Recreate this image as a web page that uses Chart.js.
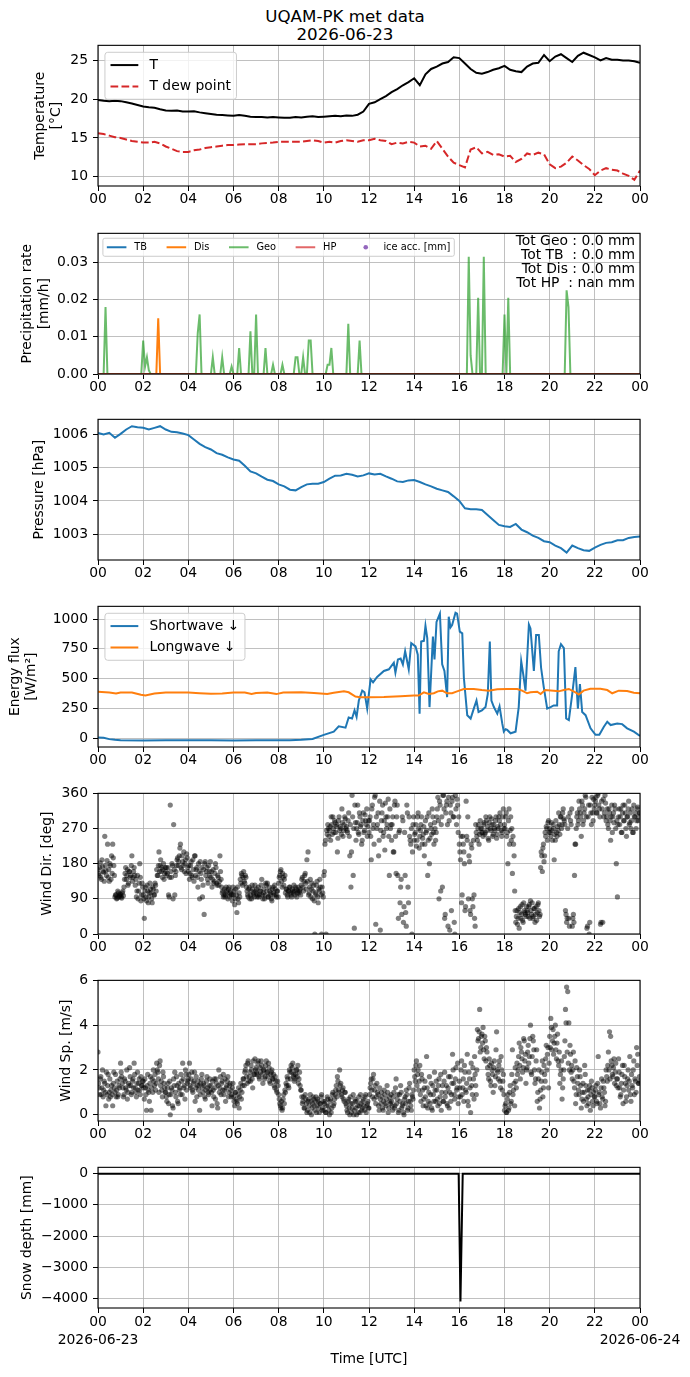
<!DOCTYPE html>
<html>
<head>
<meta charset="utf-8">
<script src="https://cdn.jsdelivr.net/npm/chart.js@4.4.1/dist/chart.umd.min.js"></script>
<style>
  html, body { margin: 0; padding: 0; background: #fff; }
  body { width: 690px; height: 1377px; position: relative; overflow: hidden; font-family: "DejaVu Sans", sans-serif; }
  #title { position: absolute; left: 0; top: 7px; width: 690px; text-align: center; font-size: 16.7px; line-height: 18px; color: #000; }
  canvas { position: absolute; left: 0; }
</style>
</head>
<body>
<div id="title">UQAM-PK met data<br>2026-06-23</div>
<canvas id="c1"></canvas>
<canvas id="c2"></canvas>
<canvas id="c3"></canvas>
<canvas id="c4"></canvas>
<canvas id="c5"></canvas>
<canvas id="c6"></canvas>
<canvas id="c7"></canvas>
<script>
// ---------- data ----------
const hourTicks = [0, 2, 4, 6, 8, 10, 12, 14, 16, 18, 20, 22, 24];
const hourLabels = ["00", "02", "04", "06", "08", "10", "12", "14", "16", "18", "20", "22", "00"];
const startDate = "2026-06-23";
const endDate = "2026-06-24";

// temperature, every 15 min
const tempTicks = [10, 15, 20, 25];
const tempT = [
  19.9, 19.8, 19.75, 19.8,   19.75, 19.6, 19.45, 19.25,  19.05, 18.95, 18.9, 18.7,
  18.55, 18.5, 18.55, 18.4,  18.4, 18.45, 18.3, 18.2,    18.1, 18.0, 17.95, 17.9,
  17.85, 17.95, 17.85, 17.75, 17.7, 17.7, 17.65, 17.7,   17.65, 17.6, 17.6, 17.7,
  17.65, 17.75, 17.8, 17.7,  17.75, 17.8, 17.85, 17.8,   17.9, 17.85, 18.0, 18.4,
  19.4, 19.6, 20.0, 20.4,    20.9, 21.3, 21.8, 22.2,     22.7, 21.8, 23.2, 23.9,
  24.2, 24.6, 24.8, 25.4,    25.3, 24.6, 23.9, 23.4,     23.3, 23.5, 23.8, 24.0,
  24.3, 23.8, 23.6, 23.5,    24.2, 24.6, 24.7, 25.7,     24.9, 25.5, 25.8, 25.3,
  24.8, 25.6, 26.0, 25.7,    25.4, 25.0, 25.3, 25.1,     25.1, 25.0, 25.0, 24.9,
  24.7
];
const tempDew = [
  15.6, 15.5, 15.3, 15.1,    15.0, 14.8, 14.6, 14.5,     14.4, 14.4, 14.5, 14.3,
  13.9, 13.6, 13.3, 13.2,    13.2, 13.4, 13.5, 13.7,     13.8, 13.9, 14.0, 14.1,
  14.1, 14.15, 14.2, 14.2,   14.2, 14.3, 14.35, 14.4,    14.5, 14.5, 14.5, 14.5,
  14.5, 14.6, 14.7, 14.6,    14.4, 14.5, 14.4, 14.6,     14.7, 14.6, 14.5, 14.7,
  14.7, 14.9, 14.7, 14.6,    14.2, 14.4, 14.3, 14.5,     14.4, 13.9, 14.0, 13.6,
  14.6, 13.6, 12.6, 11.8,    11.5, 11.2, 13.5, 13.8,     13.0, 13.2, 12.8, 12.9,
  12.6, 12.7, 11.9, 12.3,    13.0, 12.8, 13.1, 12.9,     11.6, 11.1, 11.3, 11.8,
  12.6, 12.1, 11.5, 11.0,    10.2, 10.8, 11.1, 10.9,     10.8, 10.4, 10.1, 9.6,
  10.8
];

// precipitation rate, Geo gauge every 5 min (one row per hour)
const precipTicks = [0, 0.01, 0.02, 0.03];
const geoRate = [
  0, 0, 0, 0, 0.018, 0, 0, 0, 0, 0, 0, 0,
  0, 0, 0, 0, 0, 0, 0, 0, 0, 0, 0, 0,
  0.009, 0.002, 0.0045, 0.001, 0, 0, 0, 0, 0, 0, 0, 0,
  0, 0, 0, 0, 0, 0, 0, 0, 0, 0, 0, 0,
  0, 0, 0, 0, 0, 0.011, 0.016, 0, 0, 0, 0, 0,
  0, 0.0045, 0, 0, 0, 0, 0.0045, 0, 0, 0, 0, 0.002,
  0, 0, 0, 0.007, 0, 0, 0, 0, 0, 0.0115, 0, 0,
  0.016, 0, 0, 0, 0, 0.007, 0, 0, 0, 0.0025, 0, 0,
  0, 0, 0.0025, 0, 0, 0, 0, 0, 0, 0.0045, 0.0045, 0,
  0, 0.0045, 0, 0, 0.009, 0.009, 0, 0, 0, 0, 0, 0,
  0, 0, 0.0025, 0.0025, 0.007, 0, 0, 0, 0, 0, 0, 0,
  0, 0.0135, 0, 0, 0, 0, 0, 0.009, 0, 0, 0, 0,
  0, 0, 0, 0, 0, 0, 0, 0, 0, 0, 0, 0,
  0, 0, 0, 0, 0, 0, 0, 0, 0, 0, 0, 0,
  0, 0, 0, 0, 0, 0, 0, 0, 0, 0, 0, 0,
  0, 0, 0, 0, 0, 0, 0, 0, 0, 0, 0, 0,
  0, 0, 0, 0, 0, 0.0315, 0.005, 0, 0, 0, 0.0205, 0,
  0, 0.0315, 0, 0, 0, 0, 0, 0, 0, 0, 0, 0,
  0.016, 0, 0.0205, 0, 0, 0, 0, 0, 0, 0, 0, 0,
  0, 0, 0, 0, 0, 0, 0, 0, 0, 0, 0, 0,
  0, 0, 0, 0, 0, 0, 0, 0, 0, 0.0225, 0.018, 0,
  0, 0, 0, 0, 0, 0, 0, 0, 0, 0, 0, 0,
  0, 0, 0, 0, 0, 0, 0, 0, 0, 0, 0, 0,
  0, 0, 0, 0, 0, 0, 0, 0, 0, 0, 0, 0,
  0
];
const disTimes = [0, 2.583, 2.667, 2.75, 24];
const disRate = [0, 0, 0.015, 0, 0];
const tbTimes = [0, 24];
const tbRate = [0, 0];
const hpTimes = [0, 24];
const hpRate = [0, 0];
const totLines = ["Tot Geo : 0.0 mm", "Tot TB  : 0.0 mm", "Tot Dis : 0.0 mm", "Tot HP  : nan mm"];

// pressure, every 15 min
const pressTicks = [1003, 1004, 1005, 1006];
const pressure = [
  1006.05, 1006.0, 1006.05, 1005.9,   1006.02, 1006.15, 1006.25, 1006.22,
  1006.2, 1006.15, 1006.2, 1006.25,   1006.15, 1006.08, 1006.07, 1006.03,
  1005.98, 1005.85, 1005.72, 1005.62, 1005.55, 1005.44, 1005.39, 1005.31,
  1005.25, 1005.21, 1005.06, 1004.89, 1004.83, 1004.73, 1004.64, 1004.6,
  1004.5, 1004.44, 1004.34, 1004.32,  1004.42, 1004.5, 1004.52, 1004.52,
  1004.57, 1004.67, 1004.76, 1004.77, 1004.82, 1004.79, 1004.74, 1004.77,
  1004.83, 1004.8, 1004.82, 1004.74,  1004.67, 1004.59, 1004.57, 1004.62,
  1004.63, 1004.57, 1004.5, 1004.44,  1004.37, 1004.32, 1004.27, 1004.14,
  1004.0, 1003.78, 1003.75, 1003.75,  1003.73, 1003.58, 1003.43, 1003.28,
  1003.24, 1003.22, 1003.31, 1003.14, 1003.06, 1002.96, 1002.89, 1002.79,
  1002.76, 1002.66, 1002.58, 1002.45, 1002.66, 1002.58, 1002.52, 1002.5,
  1002.6, 1002.68, 1002.74, 1002.76,  1002.82, 1002.82, 1002.89, 1002.92,
  1002.93
];

// radiation (irregular sample times, hours)
const fluxTicks = [0, 250, 500, 750, 1000];
const swTimes = [
  0, 0.25, 0.5, 0.75, 1, 2, 3, 4, 5, 6, 7, 8, 8.5, 9, 9.5,
  10.0, 10.44, 10.66, 10.96, 11.1, 11.25, 11.36, 11.45, 11.55, 11.7, 11.8, 11.92,
  12.07, 12.18, 12.36, 12.66, 12.88, 13.1, 13.17, 13.28, 13.4, 13.5, 13.6, 13.76, 13.87,
  14.06, 14.16, 14.24, 14.31, 14.43, 14.5, 14.58, 14.68, 14.83, 14.9, 14.99,
  15.14, 15.24, 15.34, 15.46, 15.53, 15.61, 15.68, 15.83, 15.9,
  16.02, 16.13, 16.2, 16.35, 16.5, 16.64, 16.76, 16.85,
  17.0, 17.16, 17.26, 17.35, 17.42, 17.53, 17.68, 17.78, 17.9, 17.97,
  18.05, 18.12, 18.27, 18.49, 18.63, 18.74, 18.83, 18.93,
  19.08, 19.15, 19.3, 19.4, 19.52, 19.62, 19.74, 19.89,
  20.04, 20.18, 20.33, 20.4, 20.5, 20.63, 20.73, 20.85,
  21.0, 21.14, 21.25, 21.34, 21.44, 21.59, 21.81,
  22.03, 22.2, 22.4, 22.55, 22.7, 22.99, 23.21, 23.43, 23.73, 24.0
];
const swFlux = [
  5, 3, -8, -14, -17, -19, -18, -18, -18, -19, -17, -18, -17, -14, -6,
  28, 55, 100, 88, 173, 165, 234, 179, 316, 399, 385, 248,
  495, 468, 514, 564, 578, 633, 550, 660, 668, 619, 729, 578, 798,
  770, 701, 206, 811, 817, 943, 839, 261, 853, 660, 976,
  1045, 619, 564, 344, 1020, 930, 949, 1053, 1045,
  894, 880, 509, 193, 165, 248, 316, 220,
  234, 261, 371, 811, 316, 261, 206, 267, 124, 55,
  75, 69, 41, 55, 261, 646, 536, 399,
  954, 921, 564, 866, 866, 591, 426, 248,
  261, 275, 275, 729, 789, 756, 165, 151,
  371, 597, 248, 454, 220, 193, 83,
  28, 28, 96, 138, 110, 124, 118, 83, 55, 19
];
const lwTimes = [
  0, 0.5, 0.8, 1.0, 1.5, 1.9, 2.1, 2.5, 3, 4, 4.5, 5, 5.5, 6, 6.5, 6.8, 7, 7.5, 7.9, 8.2, 9,
  9.56, 10.15, 10.44, 10.89, 11.1, 11.4, 11.6, 12, 12.66, 13.4, 13.99, 14.2, 14.43, 14.65, 14.87,
  15.05, 15.24, 15.46, 15.68, 15.9, 16.2, 16.64, 17.0, 17.3, 17.68, 18.12, 18.56, 18.78, 19.0,
  19.15, 19.45, 19.6, 19.8, 20.18, 20.4, 20.63, 20.85, 21.14, 21.29, 21.5, 21.8, 22.25, 22.55,
  22.77, 23.06, 23.43, 23.73, 24
];
const lwFlux = [
  389, 384, 375, 384, 384, 364, 358, 375, 384, 384, 378, 372, 375, 384, 384, 372, 380, 384, 370, 384, 385,
  380, 371, 382, 393, 385, 349, 344, 344, 346, 352, 358, 358, 385, 371, 377,
  393, 399, 377, 378, 393, 413, 413, 404, 399, 410, 413, 413, 399, 377,
  385, 390, 371, 404, 399, 393, 404, 413, 385, 366, 399, 415, 415, 404,
  377, 399, 396, 382, 377
];

// wind direction: samples every 3 min (windDir) and the in-between samples (windDirB)
const dirTicks = [0, 90, 180, 270, 360];
const windDir = [
  165, 150, 182, 140, 172, 158, 250, 162, 188, 145, 135, 175, 200, 230, 175, 95, 100, 92, 105, 98,
  100, 92, 110, 120, 155, 140, 165, 130, 160, 150, 200, 145, 170, 125, 95, 150, 110, 180, 85, 130,
  100, 40, 120, 85, 110, 95, 130, 105, 80, 115, 100, 125, 165, 150, 210, 175, 160, 145, 180, 155,
  160, 150, 170, 95, 330, 145, 175, 280, 100, 160, 190, 175, 200, 230, 165, 185, 210, 180, 155, 195,
  160, 140, 175, 150, 190, 135, 200, 165, 145, 180, 90, 155, 170, 125, 50, 185, 160, 140, 175, 150,
  145, 120, 165, 135, 180, 130, 150, 125, 200, 140, 105, 95, 115, 100, 110, 90, 120, 105, 100, 85,
  100, 75, 115, 55, 90, 105, 140, 155, 125, 160, 130, 145, 110, 95, 120, 100, 90, 115, 105, 125,
  105, 95, 120, 100, 110, 140, 90, 115, 100, 125, 130, 95, 110, 105, 85, 120, 100, 115, 95, 110,
  130, 150, 165, 120, 145, 140, 105, 115, 95, 110, 120, 100, 115, 105, 110, 120, 95, 110, 105, 115,
  125, 145, 110, 150, 130, 190, 210, 105, 140, 115, 90, 125, 0, 100, 135, 80, 110, 120, 0, 105,
  150, 230, 0, 255, 270, 265, 240, 280, 300, 260, 285, 275, 210, 290, 265, 270, 320, 250, 280, 295,
  275, 260, 310, 200, 120, 355, 150, 15, 285, 270, 330, 255, 300, 280, 240, 310, 265, 290, 320, 275,
  260, 300, 190, 330, 280, 350, 25, 270, 310, 240, 10, 290, 330, 260, 215, 300, 280, 345, 150, 270,
  240, 300, 210, 340, 155, 330, 40, 265, 120, 50, 290, 70, 150, 20, 310, 80, 250, 230, 0, 280,
  240, 260, 225, 300, 270, 250, 280, 230, 255, 200, 290, 265, 150, 310, 245, 270, 320, 260, 285, 240,
  300, 350, 90, 330, 280, 120, 355, 40, 310, 340, 20, 290, 330, 60, 350, 300, 0, 320, 345, 260,
  230, 190, 80, 250, 210, 60, 340, 240, 90, 185, 50, 220, 70, 100, 20, 260, 240, 280, 255, 270,
  270, 250, 285, 260, 290, 275, 240, 300, 265, 280, 255, 270, 290, 245, 275, 300, 310, 265, 260, 320,
  280, 300, 250, 180, 320, 265, 240, 155, 230, 110, 30, 60, 40, 15, 70, 50, 35, 80, 55, 45,
  60, 45, 75, 85, 50, 40, 65, 30, 70, 55, 80, 45, 170, 200, 220, 185, 260, 275, 240, 290,
  270, 250, 265, 280, 190, 240, 260, 275, 310, 255, 300, 280, 320, 290, 60, 30, 270, 40, 310, 280,
  20, 50, 150, 230, 300, 280, 340, 310, 250, 330, 290, 320, 350, 15, 300, 0, 330, 280, 310, 345,
  330, 350, 310, 360, 320, 25, 340, 30, 300, 355, 290, 320, 270, 310, 240, 330, 300, 285, 320, 180,
  95, 300, 280, 320, 260, 330, 290, 310, 250, 300, 340, 285, 270, 320, 260, 300, 310, 290, 325, 300,
  310
];
const windDirB = [
  155, 170, 145, 190, 160, 135, 175, 150, 230, 165, 180, 140, 155, 195, 150, 100, 90, 110, 95, 102,
  95, 105, 98, 140, 170, 150, 125, 160, 145, 175, 135, 160, 150, 140, 110, 90, 130, 145, 100, 120,
  90, 110, 95, 125, 80, 105, 115, 90, 120, 100, 130, 110, 150, 175, 160, 190, 170, 165, 140, 170,
  170, 155, 100, 145, 160, 180, 90, 165, 150, 175, 195, 185, 220, 170, 200, 175, 160, 190, 205, 170,
  175, 155, 185, 145, 165, 200, 150, 170, 120, 160, 185, 140, 95, 165, 180, 150, 170, 130, 160, 185,
  160, 140, 130, 155, 170, 125, 145, 135, 160, 120, 110, 100, 95, 120, 105, 115, 95, 110, 100, 120,
  110, 90, 100, 120, 80, 95, 130, 150, 145, 135, 150, 120, 100, 115, 90, 110, 125, 100, 95, 110,
  115, 100, 95, 110, 125, 100, 105, 90, 130, 110, 95, 120, 100, 90, 115, 105, 125, 100, 110, 95,
  145, 160, 135, 155, 125, 150, 115, 100, 110, 120, 105, 95, 110, 125, 100, 115, 105, 120, 110, 100,
  140, 120, 135, 155, 115, 135, 100, 120, 95, 130, 110, 85, 105, 125, 95, 115, 140, 100, 120, 95,
  160, 240, 265, 280, 250, 275, 300, 255, 270, 290, 260, 280, 245, 300, 275, 255, 285, 265, 300, 270,
  265, 290, 250, 280, 210, 300, 270, 330, 240, 285, 260, 310, 275, 230, 290, 260, 305, 280, 250, 290,
  290, 250, 320, 270, 230, 355, 300, 280, 200, 340, 265, 310, 250, 290, 335, 270, 300, 250, 320, 280,
  280, 210, 330, 250, 300, 150, 260, 80, 140, 300, 30, 260, 55, 330, 120, 300, 240, 270, 210, 300,
  255, 280, 240, 310, 220, 265, 300, 245, 275, 230, 260, 300, 240, 180, 280, 255, 300, 230, 270, 260,
  320, 290, 340, 110, 300, 355, 320, 50, 330, 280, 350, 10, 310, 340, 300, 30, 355, 280, 330, 300,
  210, 250, 100, 230, 180, 70, 250, 300, 200, 60, 230, 90, 240, 40, 280, 250, 270, 230, 290, 260,
  260, 280, 255, 300, 265, 245, 285, 270, 295, 250, 280, 265, 300, 255, 270, 290, 280, 250, 300, 270,
  270, 310, 260, 290, 230, 300, 270, 250, 200, 60, 45, 25, 65, 55, 40, 75, 30, 60, 50, 70,
  55, 70, 40, 60, 80, 45, 65, 50, 35, 75, 60, 50, 210, 160, 230, 200, 250, 270, 285, 260,
  260, 285, 240, 270, 255, 290, 250, 265, 280, 300, 270, 310, 295, 280, 50, 40, 300, 20, 290, 320,
  40, 30, 230, 270, 310, 290, 320, 300, 340, 280, 310, 355, 300, 20, 330, 30, 310, 350, 290, 320,
  340, 310, 355, 330, 300, 30, 320, 345, 310, 335, 300, 280, 320, 290, 300, 260, 310, 330, 270, 290,
  280, 320, 300, 260, 310, 290, 330, 270, 300, 320, 280, 310, 290, 260, 330, 300, 270, 320, 290, 310
];

// wind speed: samples every 3 min (windSp) and the in-between samples (windSpB)
const spTicks = [0, 2, 4, 6];
const windSp = [
  2.8, 1.2, 1.6, 0.9, 2.0, 1.1, 1.4, 0.4, 0.9, 1.8, 1.0, 0.8, 1.3, 0.4, 1.9, 1.0, 0.8, 1.5, 0.9, 1.2,
  2.3, 1.7, 1.2, 0.9, 1.5, 1.1, 0.7, 1.4, 2.1, 1.3, 1.0, 1.6, 2.3, 1.2, 0.8, 1.9, 1.4, 1.1, 1.7, 1.3,
  1.5, 0.7, 1.2, 0.2, 1.8, 1.0, 1.4, 0.2, 1.6, 2.0, 1.3, 1.1, 2.3, 1.9, 1.0, 2.4, 1.5, 0.8, 1.7, 1.2,
  1.0, 0.6, 1.4, 0.9, 0.0, 1.2, 0.4, 1.6, 1.9, 0.8, 1.3, 0.5, 1.1, 0.9, 1.5, 2.3, 1.2, 0.7, 1.8, 1.4,
  1.6, 2.3, 1.2, 1.9, 1.0, 1.5, 0.6, 1.7, 1.3, 1.1, 0.2, 1.4, 1.8, 1.0, 1.3, 0.7, 1.5, 1.2, 0.9, 1.6,
  1.3, 0.4, 1.1, 1.6, 0.7, 1.4, 0.3, 2.0, 1.2, 0.9, 1.5, 1.8, 1.1, 0.6, 1.3, 1.7, 1.0, 1.4, 0.8, 1.2,
  0.8, 0.4, 1.0, 0.6, 0.9, 0.3, 1.1, 0.7, 1.3, 1.6, 1.9, 2.2, 1.4, 2.4, 1.7, 1.5, 2.0, 1.2, 1.8, 2.5,
  2.1, 1.8, 2.4, 1.6, 1.9, 2.2, 1.4, 2.0, 1.7, 2.4, 1.9, 2.3, 1.5, 1.8, 2.0, 1.6, 1.3, 1.7, 1.1, 1.5,
  0.9, 0.5, 0.3, 0.2, 0.7, 0.5, 1.0, 1.3, 1.6, 1.2, 1.9, 2.2, 2.1, 1.7, 1.5, 1.8, 2.0, 2.2, 1.6, 1.3,
  1.1, 0.5, 0.8, 0.3, 0.7, 0.1, 0.6, 0.4, 0.9, 0.0, 0.5, 0.7, 0.2, 0.8, 0.4, 0.6, 0.1, 0.5, 0.9, 0.3,
  0.2, 0.6, 0.1, 0.8, 0.4, 0.0, 0.7, 0.3, 1.0, 0.5, 0.9, 1.3, 1.7, 1.1, 2.0, 1.4, 0.8, 1.2, 0.6, 1.0,
  0.4, 0.1, 0.7, 0.0, 0.5, 0.3, 0.9, 0.2, 0.6, 0.0, 0.4, 0.8, 0.1, 0.5, 0.3, 0.7, 0.2, 0.9, 0.4, 0.6,
  0.3, 1.2, 1.6, 0.8, 1.8, 1.1, 0.5, 1.4, 0.9, 0.2, 0.7, 1.0, 0.3, 0.6, 0.9, 0.4, 1.3, 0.1, 0.8, 0.5,
  0.6, 0.2, 1.0, 0.4, 1.6, 0.7, 0.1, 0.9, 1.3, 0.3, 0.5, 0.0, 0.8, 1.1, 0.2, 0.6, 1.4, 0.4, 0.9, 0.7,
  2.0, 1.5, 2.4, 1.8, 1.1, 2.2, 0.6, 1.6, 0.4, 1.2, 0.8, 2.6, 0.3, 1.0, 0.5, 1.4, 0.2, 0.9, 1.9, 0.6,
  1.1, 0.4, 1.6, 0.8, 0.2, 1.3, 0.6, 1.9, 1.0, 0.5, 1.2, 0.3, 1.7, 0.9, 2.7, 1.4, 0.7, 2.1, 1.2, 0.5,
  1.5, 0.8, 2.4, 1.2, 0.6, 1.9, 1.0, 2.7, 0.4, 1.6, 0.1, 1.3, 2.1, 0.7, 1.8, 0.9, 3.8, 3.4, 4.7, 3.0,
  3.6, 3.9, 2.5, 3.3, 3.0, 2.1, 1.6, 2.2, 1.3, 2.0, 1.0, 2.4, 1.7, 3.7, 1.9, 2.2, 1.5, 2.6, 1.1, 1.8,
  0.2, 0.5, 0.1, 0.9, 0.3, 1.3, 0.6, 2.9, 1.1, 0.4, 1.5, 2.3, 2.0, 3.2, 1.6, 2.8, 1.9, 3.4, 2.4, 1.4,
  2.1, 3.1, 2.6, 4.0, 1.8, 3.5, 2.9, 1.4, 2.4, 0.6, 1.6, 0.3, 1.1, 1.9, 0.8, 2.2, 1.5, 3.1, 2.7, 1.2,
  3.5, 4.3, 2.9, 3.8, 3.2, 4.0, 2.5, 3.6, 2.2, 1.4, 2.0, 0.7, 1.6, 2.6, 4.7, 5.7, 5.5, 4.1, 3.1, 1.9,
  1.6, 2.8, 1.2, 0.5, 2.1, 1.4, 0.9, 1.7, 0.3, 1.0, 0.6, 2.2, 1.3, 0.4, 0.8, 1.1, 0.2, 1.5, 0.6, 1.0,
  0.8, 1.3, 0.5, 2.6, 1.0, 0.3, 1.6, 0.7, 1.2, 0.4, 2.0, 1.5, 2.8, 3.7, 3.5, 2.2, 1.7, 2.5, 1.9, 1.3,
  1.6, 2.5, 1.2, 0.9, 1.8, 0.5, 2.2, 1.4, 0.8, 1.6, 1.1, 2.6, 0.6, 1.3, 2.0, 0.9, 1.5, 3.0, 2.7, 1.4,
  1.5
];
const windSpB = [
  1.4, 0.9, 1.7, 1.2, 0.8, 1.5, 1.0, 1.9, 1.3, 0.7, 1.6, 1.1, 0.9, 1.4, 1.2, 1.8, 1.1, 0.8, 1.3, 1.6,
  1.9, 1.4, 0.8, 1.6, 1.2, 2.0, 1.0, 1.3, 1.7, 0.9, 1.5, 1.2, 1.8, 1.0, 1.4, 1.1, 1.6, 0.9, 1.3, 1.5,
  1.2, 1.6, 0.9, 1.3, 1.1, 0.6, 1.7, 1.2, 1.0, 1.5, 1.8, 1.4, 2.0, 1.6, 2.2, 1.3, 1.1, 1.9, 1.4, 1.0,
  0.8, 1.2, 0.5, 1.5, 0.9, 1.1, 0.3, 1.3, 1.0, 1.7, 0.6, 1.4, 1.2, 1.8, 0.9, 1.6, 1.3, 2.0, 1.1, 1.5,
  1.8, 1.3, 1.6, 1.1, 1.4, 1.9, 1.2, 0.8, 1.5, 1.3, 0.9, 1.6, 1.2, 1.4, 0.8, 1.1, 1.7, 1.0, 1.3, 1.1,
  1.0, 1.5, 0.8, 1.2, 1.6, 0.5, 1.3, 1.0, 1.7, 1.4, 1.1, 0.9, 1.6, 1.2, 1.5, 0.8, 1.3, 1.1, 0.9, 1.4,
  0.6, 1.0, 0.7, 0.5, 1.2, 0.8, 1.4, 1.0, 1.6, 1.3, 2.0, 1.7, 2.3, 1.5, 1.9, 2.2, 1.6, 2.4, 1.8, 2.0,
  1.9, 2.3, 1.7, 2.1, 2.4, 1.8, 2.0, 1.6, 2.2, 1.9, 1.7, 2.1, 1.4, 1.9, 1.6, 1.8, 1.2, 1.5, 1.0, 1.3,
  0.7, 0.4, 0.6, 0.3, 0.9, 1.1, 1.4, 1.7, 1.3, 2.0, 1.6, 1.9, 2.3, 1.8, 1.6, 2.0, 1.7, 1.4, 1.9, 1.1,
  0.8, 0.6, 0.3, 0.9, 0.5, 0.2, 0.7, 0.1, 0.6, 0.3, 0.8, 0.4, 0.6, 0.1, 0.7, 0.3, 0.5, 0.8, 0.2, 0.6,
  0.5, 0.1, 0.4, 0.7, 0.2, 0.6, 0.1, 0.9, 0.4, 0.7, 1.1, 0.8, 1.5, 1.0, 1.3, 0.9, 1.1, 0.7, 1.0, 0.5,
  0.2, 0.6, 0.3, 0.8, 0.1, 0.5, 0.0, 0.7, 0.3, 0.6, 0.1, 0.4, 0.9, 0.2, 0.6, 0.4, 0.8, 0.1, 0.5, 0.3,
  0.9, 1.4, 1.1, 1.6, 0.7, 1.3, 0.8, 1.0, 0.4, 1.2, 0.5, 0.8, 0.2, 1.1, 0.5, 0.7, 1.0, 0.3, 0.6, 0.9,
  0.4, 0.8, 0.3, 1.2, 0.5, 0.9, 0.2, 0.6, 1.0, 0.4, 0.1, 0.7, 0.5, 0.9, 0.3, 1.2, 0.6, 0.2, 0.8, 1.1,
  1.7, 2.2, 1.3, 2.0, 1.5, 0.9, 1.8, 1.1, 0.7, 1.5, 0.4, 1.2, 0.6, 1.7, 0.9, 0.3, 1.3, 0.6, 1.1, 1.5,
  0.7, 1.3, 0.5, 1.8, 1.0, 0.6, 1.5, 0.8, 1.3, 0.4, 1.7, 1.0, 0.6, 1.4, 2.0, 0.9, 1.6, 1.1, 2.3, 0.8,
  1.2, 2.0, 0.9, 1.6, 2.2, 1.1, 1.4, 0.6, 1.9, 1.2, 2.3, 0.9, 1.6, 2.6, 1.3, 2.0, 3.3, 3.7, 2.8, 3.5,
  3.2, 2.9, 3.5, 2.4, 2.8, 1.8, 2.5, 1.5, 2.3, 1.8, 2.1, 1.3, 2.9, 2.0, 1.6, 2.4, 1.2, 2.0, 1.5, 0.9,
  0.4, 0.1, 0.7, 0.2, 1.0, 0.5, 1.8, 0.9, 1.4, 2.1, 1.2, 1.8, 2.6, 2.2, 3.0, 2.5, 2.1, 3.3, 2.7, 2.0,
  2.8, 2.3, 3.4, 1.9, 2.6, 3.3, 2.0, 1.6, 2.9, 1.0, 2.0, 0.7, 1.5, 2.4, 1.2, 1.8, 2.5, 2.0, 3.0, 2.3,
  3.0, 3.9, 3.3, 2.7, 3.5, 2.9, 3.2, 2.4, 2.8, 1.8, 2.4, 1.2, 2.0, 3.3, 4.1, 2.8, 2.3, 2.0, 2.7, 2.2,
  2.0, 1.5, 2.4, 0.9, 1.7, 1.1, 2.0, 1.3, 0.7, 1.4, 1.0, 1.8, 0.7, 1.1, 0.5, 1.3, 0.9, 1.2, 0.4, 0.8,
  1.1, 0.6, 1.4, 0.9, 0.5, 1.2, 0.8, 1.5, 1.0, 0.6, 1.7, 2.2, 2.0, 1.6, 2.4, 1.8, 2.1, 1.4, 2.3, 1.6,
  1.2, 1.9, 0.8, 1.4, 2.2, 1.1, 1.7, 0.6, 1.3, 2.0, 1.5, 0.9, 1.8, 1.2, 2.4, 1.6, 1.0, 2.2, 1.4, 1.7
];

// snow depth
const snowTicks = [0, -1000, -2000, -3000, -4000];
const snowTimes = [0, 15.97, 16.05, 16.15, 24];
const snowDepth = [0, 0, -4100, 0, 0];

// ---------- helpers ----------
function series(values, stepHours, offset = 0) {
  return values.map((v, i) => ({ x: offset + i * stepHours, y: v }));
}
function pairs(times, values) {
  return times.map((t, i) => ({ x: t, y: values[i] }));
}

Chart.defaults.font.family = '"DejaVu Sans", sans-serif';
Chart.defaults.font.size = 13.9;
Chart.defaults.color = '#000';

const FONT = 13.9;
const PLOT_H = 142;
const PAD_TOP = 12;
const PLOT_LEFT = 98;

// black box around the axes, like matplotlib spines
const framePlugin = {
  id: 'frame',
  afterDatasetsDraw(chart) {
    const { ctx, chartArea: a } = chart;
    ctx.save();
    ctx.strokeStyle = '#000';
    ctx.lineWidth = 1.1;
    ctx.strokeRect(a.left, a.top, a.right - a.left, a.bottom - a.top);
    ctx.restore();
  }
};

// legend drawn inside the axes (upper left), matplotlib style
const mplLegend = {
  id: 'mplLegend',
  afterDraw(chart, args, opts) {
    if (!opts || !opts.show) return;
    const ctx = chart.ctx, a = chart.chartArea, f = opts.fontSize;
    const items = chart.data.datasets.filter(d => d.label);
    const ncol = opts.ncol || 1, nrow = Math.ceil(items.length / ncol);
    const handle = 2 * f, textPad = 0.8 * f, colSpace = 2 * f;
    const pad = 0.4 * f, rowH = 1.04 * f, rowSpace = 0.5 * f, edge = 0.5 * f;
    ctx.save();
    ctx.font = f + 'px "DejaVu Sans"';
    const colW = [];
    for (let c = 0; c < ncol; c++) {
      let w = 0;
      for (let r = 0; r < nrow; r++) {
        const it = items[c * nrow + r];
        if (it) w = Math.max(w, ctx.measureText(it.label).width);
      }
      colW.push(handle + textPad + w);
    }
    const boxW = 2 * pad + colW.reduce((s, w) => s + w, 0) + colSpace * (ncol - 1);
    const boxH = 2 * pad + nrow * rowH + (nrow - 1) * rowSpace;
    const x0 = a.left + edge, y0 = a.top + edge;
    ctx.beginPath();
    if (ctx.roundRect) ctx.roundRect(x0, y0, boxW, boxH, 0.2 * f);
    else ctx.rect(x0, y0, boxW, boxH);
    ctx.fillStyle = 'rgba(255,255,255,0.8)';
    ctx.fill();
    ctx.strokeStyle = '#cccccc';
    ctx.lineWidth = 1;
    ctx.stroke();
    let cx = x0 + pad;
    for (let c = 0; c < ncol; c++) {
      for (let r = 0; r < nrow; r++) {
        const d = items[c * nrow + r];
        if (!d) continue;
        const cy = y0 + pad + r * (rowH + rowSpace) + rowH / 2;
        if (d.showLine === false) {
          ctx.beginPath();
          ctx.arc(cx + handle / 2, cy, opts.dotRadius || 2.5, 0, 2 * Math.PI);
          ctx.fillStyle = d.pointBackgroundColor;
          ctx.fill();
        } else {
          ctx.beginPath();
          ctx.setLineDash(d.borderDash || []);
          ctx.moveTo(cx, cy);
          ctx.lineTo(cx + handle, cy);
          ctx.strokeStyle = d.borderColor;
          ctx.lineWidth = d.borderWidth;
          ctx.stroke();
          ctx.setLineDash([]);
        }
        ctx.fillStyle = '#000';
        ctx.textAlign = 'left';
        ctx.textBaseline = 'middle';
        ctx.fillText(d.label, cx + handle + textPad, cy);
      }
      cx += colW[c] + colSpace;
    }
    ctx.restore();
  }
};

// right-aligned text block in the upper right of the axes
const cornerText = {
  id: 'cornerText',
  afterDraw(chart, args, opts) {
    if (!opts || !opts.lines) return;
    const ctx = chart.ctx, a = chart.chartArea;
    ctx.save();
    ctx.font = opts.fontSize + 'px "DejaVu Sans"';
    ctx.fillStyle = '#000';
    ctx.textAlign = 'right';
    ctx.textBaseline = 'middle';
    Array.from(opts.lines).forEach((t, i) => {
      ctx.fillText(t, a.right - opts.inset, a.top + opts.first + i * opts.step);
    });
    ctx.restore();
  }
};

function panel(id, top, cfg) {
  const xh = cfg.xHeight || 30;
  const cv = document.getElementById(id);
  cv.width = 690;
  cv.height = PAD_TOP + PLOT_H + xh;
  cv.style.top = (top - PAD_TOP) + 'px';
  const n = cfg.datasets.length;
  cfg.datasets.forEach((d, i) => {
    d.order = n - i;              // later datasets drawn on top, as in matplotlib
    d.clip = 0;
    d.fill = false;
    d.tension = 0;
    if (d.borderWidth === undefined) d.borderWidth = 2;
    if (d.pointRadius === undefined) d.pointRadius = 0;
    d.pointHoverRadius = d.pointRadius;
  });
  const grid = { color: '#b0b0b0', lineWidth: 0.8, drawTicks: true, tickLength: 5, tickColor: '#000', tickWidth: 1 };
  return new Chart(cv, {
    type: 'line',
    data: { datasets: cfg.datasets },
    options: {
      responsive: false,
      animation: false,
      events: [],
      layout: { padding: { left: cfg.labelLeft, right: 690 - 640, top: PAD_TOP, bottom: 0 } },
      plugins: {
        legend: { display: false },
        tooltip: { enabled: false },
        mplLegend: cfg.legend || {},
        cornerText: cfg.corner || {}
      },
      scales: {
        x: {
          type: 'linear', min: 0, max: 24,
          afterBuildTicks: s => { s.ticks = hourTicks.map(v => ({ value: v })); },
          afterFit: s => { s.height = xh; },
          grid: grid,
          border: { display: false },
          ticks: {
            padding: 0, maxRotation: 0, autoSkip: false,
            font: { size: FONT, lineHeight: cfg.xLineHeight || 1.2 },
            callback: cfg.xLabel || ((v, i) => hourLabels[i])
          },
          title: cfg.xTitle || { display: false }
        },
        y: {
          type: 'linear', min: cfg.yMin, max: cfg.yMax,
          afterBuildTicks: s => { s.ticks = cfg.yTicks.map(v => ({ value: v })); },
          afterFit: s => { s.width = PLOT_LEFT - cfg.labelLeft; },
          grid: grid,
          border: { display: false },
          ticks: { padding: 5, autoSkip: false, font: { size: FONT }, callback: cfg.yFormat || (v => String(v)) },
          title: { display: true, text: cfg.yTitle, padding: 0, font: { size: FONT, lineHeight: 1.2 } }
        }
      }
    },
    plugins: [framePlugin, mplLegend, cornerText]
  });
}

const dotStyle = { showLine: false, pointRadius: 2.6, borderWidth: 0,
  pointBackgroundColor: 'rgba(0,0,0,0.5)', pointBorderWidth: 0 };

// ---------- panels ----------
panel('c1', 44, {
  labelLeft: 31.7, yMin: 8.8, yMax: 26.95, yTicks: tempTicks,
  yTitle: ['Temperature', '[°C]'],
  legend: { show: true, fontSize: FONT },
  datasets: [
    { label: 'T', data: series(tempT, 0.25), borderColor: '#000000' },
    { label: 'T dew point', data: series(tempDew, 0.25), borderColor: '#d62728', borderDash: [7.7, 3.3] }
  ]
});

panel('c2', 232, {
  labelLeft: 19.2, yMin: 0, yMax: 0.0378, yTicks: precipTicks,
  yTitle: ['Precipitation rate', '[mm/h]'],
  yFormat: v => v.toFixed(2),
  legend: { show: true, fontSize: 9.8, ncol: 5, dotRadius: 2.3 },
  corner: { lines: totLines, fontSize: FONT, inset: 5, first: 7.7, step: 14 },
  datasets: [
    { label: 'TB', data: pairs(tbTimes, tbRate), borderColor: '#1f77b4' },
    { label: 'Dis', data: pairs(disTimes, disRate), borderColor: '#ff7f0e' },
    { label: 'Geo', data: series(geoRate, 1 / 12), borderColor: 'rgba(44,160,44,0.7)' },
    { label: 'HP', data: pairs(hpTimes, hpRate), borderColor: 'rgba(214,39,40,0.7)' },
    { label: 'ice acc. [mm]', data: [], showLine: false, pointRadius: 2.3, pointBackgroundColor: '#9467bd', pointBorderWidth: 0 }
  ]
});

panel('c3', 418, {
  labelLeft: 30.7, yMin: 1002.225, yMax: 1006.456, yTicks: pressTicks,
  yTitle: 'Pressure [hPa]',
  datasets: [
    { data: series(pressure, 0.25), borderColor: '#1f77b4' }
  ]
});

panel('c4', 605, {
  labelLeft: 6.7, yMin: -74, yMax: 1106.5, yTicks: fluxTicks,
  yTitle: ['Energy flux', '[W/m²]'],
  legend: { show: true, fontSize: FONT },
  datasets: [
    { label: 'Shortwave \u2193', data: pairs(swTimes, swFlux), borderColor: '#1f77b4' },
    { label: 'Longwave \u2193', data: pairs(lwTimes, lwFlux), borderColor: '#ff7f0e' }
  ]
});

panel('c5', 792, {
  labelLeft: 38.7, yMin: 0, yMax: 360, yTicks: dirTicks,
  yTitle: 'Wind Dir. [deg]',
  datasets: [
    Object.assign({ data: series(windDir, 0.05) }, dotStyle),
    Object.assign({ data: series(windDirB, 0.05, 0.025) }, dotStyle)
  ]
});

panel('c6', 979, {
  labelLeft: 57.7, yMin: -0.28, yMax: 6, yTicks: spTicks,
  yTitle: 'Wind Sp. [m/s]',
  datasets: [
    Object.assign({ data: series(windSp, 0.05) }, dotStyle),
    Object.assign({ data: series(windSpB, 0.05, 0.025) }, dotStyle)
  ]
});

panel('c7', 1166, {
  labelLeft: 18.7, yMin: -4312, yMax: 205, yTicks: snowTicks,
  yTitle: 'Snow depth [mm]',
  yFormat: v => (v < 0 ? '\u2212' + Math.abs(v) : String(v)),
  xHeight: 62,
  xLineHeight: 1.3,
  xLabel: (v, i) => {
    if (i === 0) return [hourLabels[i], startDate];
    if (i === hourLabels.length - 1) return [hourLabels[i], endDate];
    return hourLabels[i];
  },
  xTitle: { display: true, text: 'Time [UTC]', padding: { top: 0, bottom: 2.6 }, font: { size: FONT, lineHeight: 1.2 } },
  datasets: [
    { data: pairs(snowTimes, snowDepth), borderColor: '#000000' }
  ]
});
</script>
</body>
</html>
